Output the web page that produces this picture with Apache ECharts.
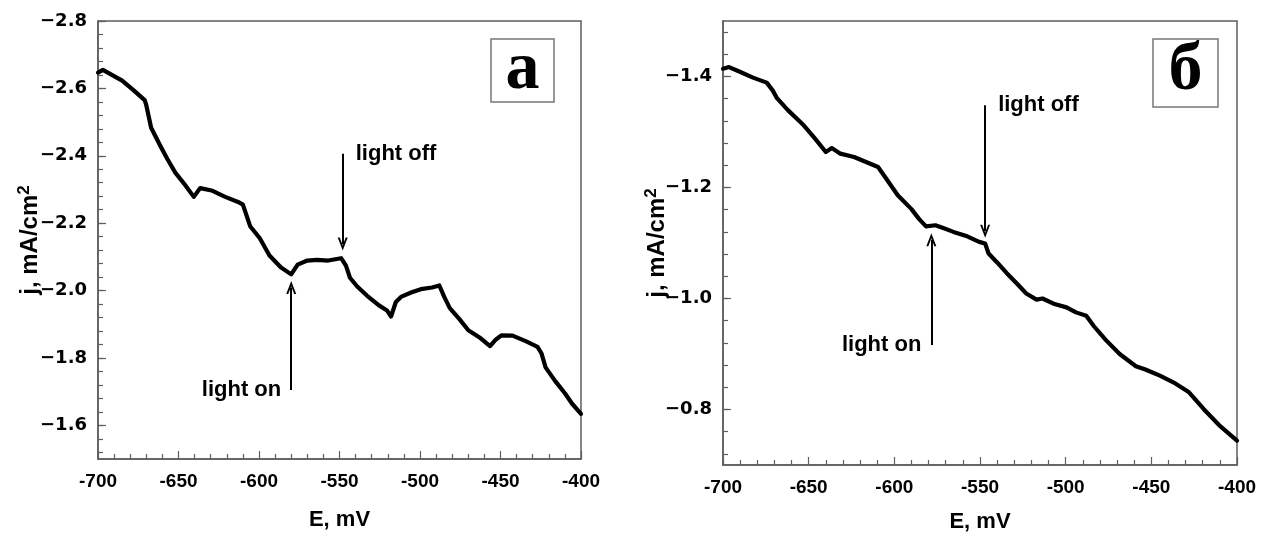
<!DOCTYPE html>
<html>
<head>
<meta charset="utf-8">
<title>j-E curves</title>
<script src="https://cdn.jsdelivr.net/npm/echarts@6/dist/echarts.min.js"></script>
<style>
html,body{margin:0;padding:0;background:#fff}
#chart{width:1263px;height:543px}
</style>
</head>
<body>
<div id="chart"></div>
<script>
// panel a : potential (mV) and current density (mA/cm2)
var eA = [-700,-697,-685,-678,-671,-670,-667,-661,-657,-652,-646,-640.5,-636.5,-629.5,-621,-613,-610,-605.5,-599.5,-593.5,
	-586.5,-580,-576,-570,-564,-557,-549,-546,-543.5,-539,-533,-525.5,-520.5,-518,-515,-511.5,-505.5,-499.5,-492.5,-488,
	-485,-481.5,-475.5,-470,-462.5,-456.5,-453,-449.5,-442.5,-434,-427,-424.5,-422,-416,-410,-405.5,-400];
var jA = [-2.647,-2.655,-2.623,-2.595,-2.565,-2.55,-2.483,-2.427,-2.391,-2.35,-2.314,-2.278,-2.304,-2.297,-2.278,-2.263,-2.255,-2.191,-2.155,-2.104,
	-2.069,-2.048,-2.077,-2.089,-2.091,-2.089,-2.096,-2.074,-2.038,-2.012,-1.985,-1.956,-1.941,-1.923,-1.966,-1.982,-1.994,-2.004,-2.009,-2.015,
	-1.982,-1.948,-1.915,-1.882,-1.859,-1.835,-1.854,-1.867,-1.866,-1.849,-1.833,-1.813,-1.772,-1.731,-1.695,-1.664,-1.634];

// panel б
var eB = [-700,-696.5,-690.5,-682.5,-674.5,-671,-668.5,-662,-653.5,-646.5,-640,-636.5,-631.5,-623.5,-616.5,-609.5,-605,-598,-590,-585.5,
	-581.5,-576,-571.5,-565.5,-557.5,-550.5,-547,-545,-540,-534.5,-528.5,-523,-517,-513.5,-506.5,-499.5,-494,-488,-483.5,-476.5,
	-468.5,-459,-453.5,-445,-436,-428,-419.5,-410.5,-400];
var jB = [-1.414,-1.417,-1.409,-1.398,-1.389,-1.375,-1.361,-1.339,-1.314,-1.289,-1.264,-1.271,-1.261,-1.255,-1.246,-1.237,-1.217,-1.186,-1.161,-1.143,
	-1.130,-1.132,-1.127,-1.120,-1.112,-1.102,-1.099,-1.081,-1.065,-1.046,-1.027,-1.009,-0.998,-1.000,-0.990,-0.984,-0.975,-0.969,-0.950,-0.925,
	-0.900,-0.878,-0.872,-0.861,-0.847,-0.831,-0.801,-0.772,-0.744];

// y tick labels
var yTicksA = [-2.8,-2.6,-2.4,-2.2,-2.0,-1.8,-1.6];
var yTicksB = [-1.4,-1.2,-1.0,-0.8];

// light on / light off arrows [E, j tail, j head]
var lightOnA = [-580, -1.705, -2.009];
var lightOffA = [-548, -2.406, -2.138];
var lightOnB = [-578.4, -0.916, -1.106];
var lightOffB = [-547, -1.348, -1.121];

var sans = "'Liberation Sans', Arial, sans-serif";
var wide = "'DejaVu Sans', Verdana, sans-serif";
var frameColor = '#5e5e5e';
var arrowPath = 'path://M0,13 L5,0 L10,13 L8,13 L5,5.2 L2,13 Z';

var minorTicks = function(lo, hi, step){
	var out = [];
	var n = Math.round((hi - lo) / step);
	for(var i = 0; i <= n; i++){
		out.push(+(lo + i * step).toFixed(3));
	}
	return out;
};

var yFmt = function(v){
	return (v < 0 ? '\u2212' : '') + Math.abs(v).toFixed(1);
};

var xAxisFor = function(g, gap, margin){
	return {
		type:'value', gridIndex:g, min:-700, max:-400, interval:50,
		name:'E, mV', nameLocation:'middle', nameGap:gap,
		nameTextStyle:{fontSize:22, fontWeight:'bold', color:'#000', fontFamily:sans},
		axisLine:{lineStyle:{color:frameColor, width:1.5}},
		axisTick:{inside:true, length:8, lineStyle:{color:frameColor, width:1.2}},
		minorTick:{show:true, splitNumber:5, length:5, lineStyle:{color:frameColor, width:1.2}},
		axisLabel:{fontSize:19, fontWeight:'bold', color:'#000', margin:margin, fontFamily:sans},
		splitLine:{show:false}, minorSplitLine:{show:false}
	};
};

var yAxesFor = function(g, min, max, ticks, gap){
	var major = {
		type:'value', gridIndex:g, min:min, max:max, inverse:true,
		name:'{b|j, mA/cm}{s|2}', nameLocation:'middle', nameGap:gap, nameMoveOverlap:false,
		nameTextStyle:{
			color:'#000',
			rich:{
				b:{fontSize:24, fontWeight:'bold', color:'#000', fontFamily:sans, lineHeight:28},
				s:{fontSize:17, fontWeight:'bold', color:'#000', fontFamily:sans, verticalAlign:'top', lineHeight:28}
			}
		},
		axisLine:{lineStyle:{color:frameColor, width:1.5}},
		axisTick:{inside:true, length:8, customValues:ticks, lineStyle:{color:frameColor, width:1.2}},
		axisLabel:{fontSize:18, fontWeight:'bold', color:'#000', margin:11, fontFamily:wide, customValues:ticks, formatter:yFmt},
		splitLine:{show:false}
	};
	// minor ticks every 0.04, anchored on the labelled ticks
	var minor = {
		type:'value', gridIndex:g, min:min, max:max, inverse:true, position:'left',
		axisLine:{show:false},
		axisTick:{inside:true, length:5, customValues:minorTicks(min, max, 0.02).filter(function(v){
			return Math.abs(Math.round((v - ticks[0]) / 0.04) * 0.04 - (v - ticks[0])) < 1e-6;
		}), lineStyle:{color:frameColor, width:1.2}},
		axisLabel:{show:false},
		splitLine:{show:false}
	};
	return [major, minor];
};

var curve = function(g, es, js, on, off){
	var pts = es.map(function(e, i){ return [e, js[i]]; });
	var lbl = {show:true, color:'#000', fontSize:22, fontWeight:'bold', fontFamily:sans};
	return {
		type:'line', xAxisIndex:g, yAxisIndex:g * 2, data:pts,
		showSymbol:false, symbol:'none', silent:true, animation:false,
		lineStyle:{color:'#000', width:4.2, join:'round', cap:'round'},
		markLine:{
			silent:true, animation:false,
			symbol:['none', arrowPath], symbolSize:[10, 13],
			lineStyle:{color:'#000', width:2, type:'solid'},
			label:{show:false},
			data:[
				[{coord:[on[0], on[1]]}, {coord:[on[0], on[2]]}],
				[{coord:[off[0], off[1]]}, {coord:[off[0], off[2]]}]
			]
		},
		markPoint:{
			silent:true, animation:false, symbol:'circle', symbolSize:0,
			data:[
				{coord:[on[0], on[1]], label:Object.assign({formatter:'light on', position:'left', distance:10}, lbl)},
				{coord:[off[0], off[1]], label:Object.assign({formatter:'light off', position:'right', distance:13}, lbl)}
			]
		}
	};
};

var yA = yAxesFor(0, -2.8, -1.5, yTicksA, 54);
var yB = yAxesFor(1, -1.5, -0.7, yTicksB, 52);

var option = {
	backgroundColor:'#fff',
	animation:false,
	grid:[
		{left:98, top:21, right:682, bottom:84, show:true, borderColor:frameColor, borderWidth:1.5, outerBoundsMode:'none'},
		{left:723, top:21, right:26, bottom:78, show:true, borderColor:frameColor, borderWidth:1.5, outerBoundsMode:'none'}
	],
	xAxis:[xAxisFor(0, 50, 13), xAxisFor(1, 46, 13)],
	yAxis:[yA[0], yA[1], yB[0], yB[1]],
	series:[
		curve(0, eA, jA, lightOnA, lightOffA),
		curve(1, eB, jB, lightOnB, lightOffB)
	],
	graphic:[
		{type:'rect', shape:{x:491, y:39, width:63, height:63}, style:{fill:'#fff', stroke:'#777', lineWidth:1.5}},
		{type:'text', x:522.5, y:70, style:{text:'a', font:"bold 68px 'Liberation Serif', 'Times New Roman', serif", fill:'#000', align:'center', verticalAlign:'middle'}},
		{type:'rect', shape:{x:1153, y:39, width:65, height:68}, style:{fill:'#fff', stroke:'#777', lineWidth:1.5}},
		{type:'text', x:1185.5, y:71, style:{text:'\u0431', font:"bold 68px 'Liberation Serif', 'Times New Roman', serif", fill:'#000', align:'center', verticalAlign:'middle'}}
	]
};

var myChart = echarts.init(document.getElementById('chart'));
myChart.setOption(option);
</script>
</body>
</html>
